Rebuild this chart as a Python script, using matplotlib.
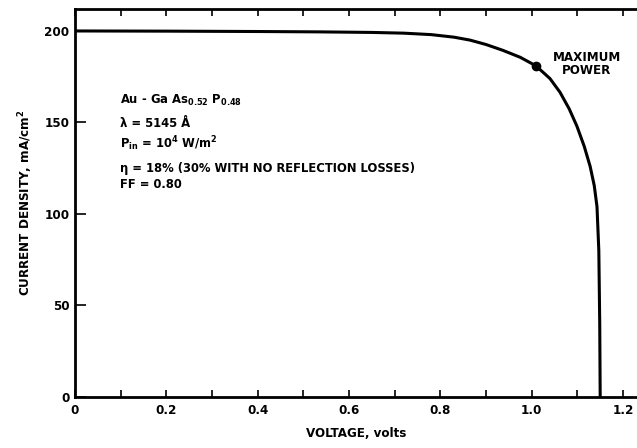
import matplotlib
matplotlib.use('Agg')
import matplotlib.pyplot as plt
from matplotlib.ticker import MultipleLocator

plt.rcParams['font.family'] = ['DejaVu Sans']
plt.rcParams['font.stretch'] = 'condensed'
plt.rcParams['font.weight'] = 'bold'
plt.rcParams['axes.labelweight'] = 'bold'
plt.rcParams['mathtext.default'] = 'bf'

# I-V curve
voltage = [0.0, 0.2, 0.4, 0.536, 0.65, 0.72, 0.78, 0.83, 0.865, 0.90, 0.937,
           0.975, 1.009, 1.04, 1.062, 1.082, 1.099, 1.115, 1.128, 1.137, 1.143,
           1.147, 1.149, 1.15]
current = [200.0, 199.9, 199.7, 199.5, 199.2, 198.8, 198.0, 196.6, 195.0, 192.6,
           189.4, 185.6, 181.0, 174.0, 166.5, 157.5, 148.0, 137.0, 126.0, 115.5,
           104.0, 80.0, 40.0, 0.0]
max_power_v = 1.009
max_power_j = 181.0

xticks = [0, 0.2, 0.4, 0.6, 0.8, 1.0, 1.2]
xtick_labels = ['0', '0.2', '0.4', '0.6', '0.8', '1.0', '1.2']
yticks = [0, 50, 100, 150, 200]

fig = plt.figure(figsize=(6.37, 4.48), dpi=100)
ax = fig.add_axes([75 / 637, 1 - 397 / 448, 562 / 637, 388 / 448])

ax.plot(voltage, current, color='black', linewidth=2.2, solid_capstyle='butt',
        solid_joinstyle='round')
ax.plot([max_power_v], [max_power_j], 'o', color='black', markersize=6)

ax.set_xlim(0, 1.2306)
ax.set_ylim(0, 212)

ax.spines['right'].set_visible(False)
for s in ['left', 'bottom', 'top']:
    ax.spines[s].set_linewidth(2.0)

ax.set_xticks(xticks)
ax.set_xticklabels(xtick_labels)
ax.xaxis.set_minor_locator(MultipleLocator(0.1))
ax.set_yticks(yticks)
ax.tick_params(axis='x', which='both', direction='in', top=True, bottom=True,
               length=5, width=1.2, labelsize=9.5, pad=5)
ax.tick_params(axis='y', which='both', direction='in', left=True, right=False,
               length=8, width=1.2, labelsize=9.5, pad=4)

ax.set_xlabel('VOLTAGE, volts', fontsize=9.5, labelpad=7)
ax.set_ylabel('CURRENT DENSITY, mA/cm$^2$', fontsize=9.5, labelpad=7)

# annotation block
tx = 0.099
fs = 9.3
ax.text(tx, 162, 'Au - Ga As$_{0.52}$ P$_{0.48}$', fontsize=fs, va='center')
ax.text(tx, 149.5, '\u03bb = 5145 \u00c5', fontsize=fs, va='center')
ax.text(tx, 138.5, 'P$_{in}$ = 10$^4$ W/m$^2$', fontsize=fs, va='center')
ax.text(tx, 125, '\u03b7 = 18% (30% WITH NO REFLECTION LOSSES)', fontsize=fs,
        va='center')
ax.text(tx, 116, 'FF = 0.80', fontsize=fs, va='center')

ax.text(1.121, 182, 'MAXIMUM\nPOWER', fontsize=9.5, ha='center', va='center',
        linespacing=0.95)

fig.savefig('out.png', dpi=100, facecolor='white')
